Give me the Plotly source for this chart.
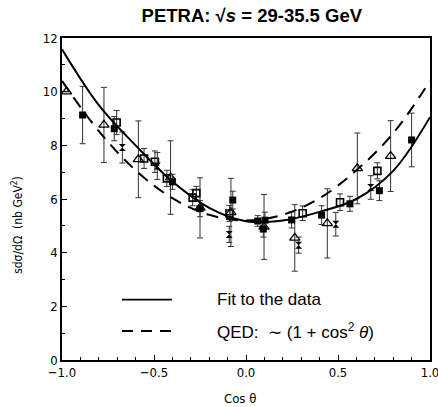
import plotly.graph_objects as go

# --- curves ---
curve_x = [-1.0, -0.8, -0.6, -0.4, -0.2, 0.0, 0.2, 0.4, 0.6, 0.8, 1.0]
fit_y = [11.58, 9.5, 8.0, 6.65, 5.67, 5.17, 5.2, 5.52, 6.0, 7.05, 9.05]
qed_y = [10.4, 8.53, 7.07, 6.03, 5.41, 5.2, 5.41, 6.03, 7.07, 8.45, 10.4]

# --- data points ---
fsq_x = [-0.888, -0.716, -0.40, -0.25, -0.072, 0.064, 0.094, 0.103, 0.248, 0.411, 0.565, 0.725, 0.90]
fsq_y = [9.13, 8.62, 6.64, 5.64, 5.96, 5.18, 4.88, 5.21, 5.22, 5.40, 5.82, 6.31, 8.20]
fsq_e = [1.07, 0.45, 0.28, 0.30, 0.33, 0.20, 0.30, 0.30, 0.30, 0.35, 0.28, 0.37, 1.00]

osq_x = [-0.703, -0.554, -0.495, -0.43, -0.29, -0.27, -0.09, 0.308, 0.511, 0.714]
osq_y = [8.85, 7.51, 7.39, 6.77, 6.05, 6.22, 5.46, 5.47, 5.88, 7.05]
osq_e = [0.45, 0.37, 0.40, 0.30, 0.30, 0.25, 0.30, 0.27, 0.31, 0.30]

tri_x = [-0.975, -0.772, -0.585, -0.41, -0.25, -0.082, 0.098, 0.265, 0.442, 0.605, 0.786]
tri_y = [10.0, 8.76, 7.48, 6.80, 5.67, 5.50, 4.96, 4.55, 5.09, 7.14, 7.60]
tri_e = [0.0, 1.40, 1.43, 1.37, 1.12, 1.27, 1.21, 1.24, 1.29, 1.32, 1.32]

hg_x = [-0.672, -0.482, -0.091, 0.286, 0.488, 0.678]
hg_y = [7.92, 7.23, 4.68, 4.28, 5.06, 6.43]
hg_e = [0.58, 0.50, 0.30, 0.30, 0.44, 0.44]

x_ticks = [-1.0, -0.5, 0.0, 0.5, 1.0]
x_tick_labels = ["−1.0", "−0.5", "0.0", "0.5", "1.0"]
y_ticks = [0, 2, 4, 6, 8, 10, 12]

fig = go.Figure()

err_style = dict(type="data", thickness=1, width=3, color="#333333")

fig.add_trace(go.Scatter(x=tri_x, y=tri_y, mode="markers",
                         error_y=dict(array=tri_e, **err_style),
                         marker=dict(symbol="triangle-up-open", size=9, color="black",
                                     line=dict(width=1.3, color="black"))))
fig.add_trace(go.Scatter(x=osq_x, y=osq_y, mode="markers",
                         error_y=dict(array=osq_e, **err_style),
                         marker=dict(symbol="square-open", size=7, color="black",
                                     line=dict(width=1.6, color="black"))))
fig.add_trace(go.Scatter(x=hg_x, y=hg_y, mode="markers",
                         error_y=dict(array=hg_e, **err_style),
                         marker=dict(symbol="hourglass", size=7, color="black")))
fig.add_trace(go.Scatter(x=fsq_x, y=fsq_y, mode="markers",
                         error_y=dict(array=fsq_e, **err_style),
                         marker=dict(symbol="square", size=7, color="black")))

fig.add_trace(go.Scatter(x=curve_x, y=fit_y, mode="lines",
                         line=dict(color="black", width=2, shape="spline")))
fig.add_trace(go.Scatter(x=curve_x, y=qed_y, mode="lines",
                         line=dict(color="black", width=2, shape="spline", dash="12px,8px")))

# legend drawn manually
fig.add_shape(type="line", x0=-0.674, x1=-0.402, y0=2.25, y1=2.25,
              line=dict(color="black", width=1.8))
fig.add_shape(type="line", x0=-0.674, x1=-0.402, y0=1.08, y1=1.08,
              line=dict(color="black", width=1.8, dash="11px,8px"))
fig.add_annotation(x=-0.168, y=2.25, xanchor="left", yanchor="middle", showarrow=False,
                   text="Fit to the data", font=dict(size=17, color="black",
                                                     family="Liberation Sans, Arial"))
fig.add_annotation(x=-0.168, y=1.08, xanchor="left", yanchor="middle", showarrow=False,
                   text="QED:  ∼ (1 + cos<sup>2</sup> <i>θ</i>)",
                   font=dict(size=17, color="black", family="Liberation Sans, Arial"))

# axis titles
fig.add_annotation(xref="paper", yref="paper", x=-0.122, y=0.42, textangle=-90,
                   showarrow=False, xanchor="center", yanchor="middle",
                   text="sdσ/dΩ  (nb GeV<sup>2</sup>)",
                   font=dict(size=12, color="black", family="DejaVu Sans Condensed, DejaVu Sans"))
fig.add_annotation(xref="paper", yref="paper", x=0.485, y=-0.12,
                   showarrow=False, xanchor="center", yanchor="middle",
                   text="Cos θ", font=dict(size=13, color="black",
                                           family="DejaVu Sans Condensed, DejaVu Sans"))

fig.update_layout(
    width=438, height=407,
    margin=dict(l=62, r=8, t=38, b=47, autoexpand=False),
    paper_bgcolor="white", plot_bgcolor="white",
    showlegend=False,
    title=dict(text="<b>PETRA: √<i>s</i> = 29-35.5 GeV</b>", x=0.575, xanchor="center",
               y=0.962, yanchor="middle",
               font=dict(size=18.5, color="black", family="Liberation Sans, Arial")),
    font=dict(family="DejaVu Sans Condensed, DejaVu Sans", color="black", size=12),
)
fig.update_xaxes(range=[-1, 1], tickvals=x_ticks, ticktext=x_tick_labels, automargin=False,
                 ticklabeloverflow="allow",
                 ticks="inside", ticklen=5, tickwidth=1.2, tickcolor="black",
                 minor=dict(dtick=0.1, ticks="inside", ticklen=3, tickcolor="black"),
                 showgrid=False, zeroline=False, showline=True, linecolor="black",
                 linewidth=1.5, mirror=True, tickfont=dict(size=13))
fig.update_yaxes(range=[0, 12], tickvals=y_ticks, automargin=False,
                 ticks="inside", ticklen=5, tickwidth=1.2, tickcolor="black",
                 minor=dict(dtick=1, ticks="inside", ticklen=3, tickcolor="black"),
                 showgrid=False, zeroline=False, showline=True, linecolor="black",
                 linewidth=1.5, mirror=True, tickfont=dict(size=13))

fig.write_html("out.html")
